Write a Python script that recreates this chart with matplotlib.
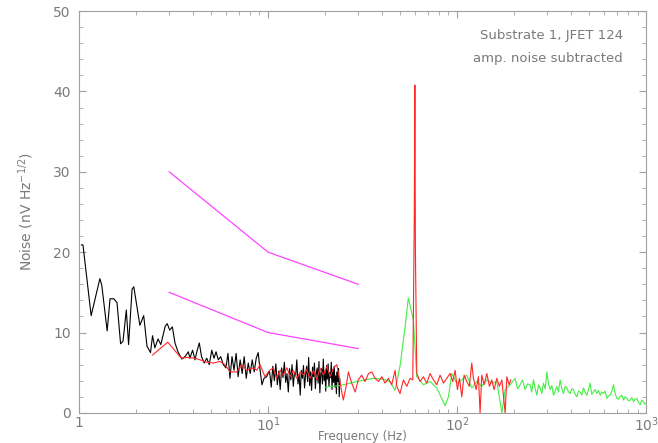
import numpy as np
import matplotlib.pyplot as plt

# Noise spectrum, substrate 1 / JFET 124

# black trace (low frequency run)
black_f = [1.03, 1.05, 1.16, 1.29, 1.32, 1.41, 1.46, 1.53, 1.59, 1.66, 1.71, 1.78,
           1.83, 1.91, 1.95, 2.10, 2.20, 2.29, 2.39, 2.45, 2.52, 2.62, 2.71, 2.86,
           2.93, 3.02, 3.12, 3.22, 3.34, 3.50, 3.64, 3.79, 3.86, 3.99, 4.11, 4.19,
           4.33, 4.45, 4.60, 4.74, 4.89, 5.04, 5.18, 5.31, 5.46, 5.62, 5.80, 5.99,
           6.14, 6.29, 6.45, 6.61, 6.78, 6.95, 7.12, 7.30, 7.48, 7.67, 7.86, 8.05,
           8.25, 8.45, 8.66, 8.87, 9.08, 9.29, 9.52, 9.83, 10.1]
black_v = [20.9, 20.9, 12.1, 16.7, 15.9, 10.2, 14.2, 14.2, 13.7, 8.6, 8.9, 12.8,
           8.5, 15.4, 15.7, 10.9, 12.1, 8.3, 7.5, 9.6, 8.1, 9.2, 8.5, 10.8,
           11.1, 10.3, 10.7, 8.7, 7.6, 6.7, 7.0, 7.6, 6.8, 7.8, 6.6, 7.5,
           8.7, 7.0, 6.2, 6.8, 6.0, 7.8, 6.8, 7.6, 6.6, 7.0, 6.0, 5.6,
           7.4, 4.3, 7.0, 5.3, 7.4, 4.5, 6.6, 4.9, 7.0, 4.3, 6.2, 4.9,
           6.6, 5.1, 6.8, 7.5, 5.3, 3.5, 4.3, 4.5, 5.1]
# dense part 10.2 - 24 Hz
black_hi = [5.1, 3.2, 5.8, 4.0, 6.1, 3.5, 5.2, 2.9, 5.6, 4.4, 6.3, 3.8, 4.9, 2.6,
            5.5, 4.1, 6.0, 3.3, 5.0, 4.6, 6.6, 3.6, 4.8, 2.2, 5.3, 4.3, 5.9, 3.1,
            4.7, 5.8, 3.9, 6.9, 3.4, 5.1, 2.8, 5.7, 4.5, 6.2, 3.0, 4.9, 5.6, 3.7,
            6.4, 2.5, 4.8, 5.5, 3.6, 6.7, 4.0, 5.2, 2.7, 5.9, 4.2, 6.1, 3.3, 5.0,
            4.4, 6.3, 2.9, 5.4, 3.8, 5.8, 3.2, 4.6, 2.4, 5.1, 3.9, 5.5, 2.0, 4.2]

# red trace (mid run, 60 Hz line)
red_f = [2.45, 2.95, 3.42, 3.50, 3.71, 4.11, 4.37, 4.74, 5.13, 5.57, 5.92, 6.29,
         6.83, 7.25, 7.71, 8.37, 8.72, 9.08, 9.63, 10.2, 10.67, 11.1, 11.6, 12.0,
         12.6, 13.1, 13.6, 14.2, 14.8, 15.4, 16.0, 16.7, 17.4, 18.1, 18.8, 19.6,
         20.5, 21.3, 22.2, 23.1, 24.0, 25.0, 25.9, 26.6, 27.7, 28.9, 30.0, 31.3,
         32.6, 34.0, 35.4, 36.8, 38.4, 40.0, 41.6, 43.3, 45.1, 47.0, 48.0, 49.9,
         52.0, 54.2, 56.4, 58.3, 59.4, 59.8, 60.2, 61.2, 63.7, 66.3, 69.1, 72.0,
         75.0, 78.1, 81.3, 84.7, 88.2, 91.8, 94.9, 97.6, 100.4, 102.9, 105.9, 108.9,
         112.5, 116.1, 119.6, 122.0, 126.1, 129.7, 132.3, 135.1, 139.0, 143.6, 148.3,
         152.6, 157.0, 162.2, 167.5, 172.5, 179.6, 183.3, 188.4, 192.3]
red_v = [7.2, 8.8, 7.0, 6.8, 6.9, 6.8, 6.6, 6.3, 6.2, 6.4, 6.0, 5.1,
         5.1, 6.0, 5.3, 5.6, 5.3, 6.0, 4.5, 5.3, 5.6, 4.3, 5.3, 4.7,
         5.6, 4.5, 5.3, 4.3, 5.1, 4.7, 5.4, 4.3, 5.3, 4.1, 5.6, 4.7,
         5.8, 4.5, 5.6, 6.0, 3.9, 1.6, 3.3, 5.1, 3.7, 2.6, 4.1, 4.7,
         3.9, 4.9, 5.1, 4.3, 3.9, 4.5, 3.7, 4.3, 3.5, 5.3, 3.3, 2.4,
         4.1, 3.3, 4.3, 4.1, 25.0, 40.8, 20.0, 4.9, 3.9, 4.5, 3.7, 4.9,
         4.1, 3.5, 4.7, 3.7, 4.3, 4.9, 3.9, 5.3, 2.9, 4.3, 2.0, 4.7,
         3.9, 3.3, 6.2, 4.3, 2.9, 4.5, 0.0, 4.7, 3.5, 4.9, 3.3,
         4.1, 2.9, 4.3, 3.3, 4.1, 0.0, 4.5, 3.5, 4.1]

# green trace (high frequency run)
green_f = [20.0, 24.0, 29.5, 36.1, 40.7, 44.2, 47.0, 49.9, 53.1, 55.2, 58.7, 61.2,
           66.4, 72.0, 78.1, 86.4, 90.0, 93.8, 99.6, 105.9, 112.5, 119.6, 127.1, 135.1,
           143.6, 152.6, 162.2, 172.5, 179.6, 190.7, 202.7, 215.4, 228.9, 243.3, 253.5,
           264.2, 274.9, 286.4, 298.5, 310.5, 323.6, 336.8, 350.8, 365.2, 380.6, 396.3,
           412.4, 429.8, 447.5, 465.9, 485.5, 505.4, 526.3, 548.4, 571.0, 594.5, 619.6,
           645.1, 671.6, 699.8, 728.6, 758.6, 790.6, 823.1, 857.0, 893.2, 929.9, 968.1,
           1000.0]
green_v = [3.2, 3.4, 3.9, 4.3, 4.2, 3.9, 2.8, 5.8, 10.7, 14.3, 11.6, 4.5,
           3.5, 3.9, 3.1, 0.9, 2.0, 4.9, 3.7, 4.1, 4.7, 3.1, 3.9, 3.3,
           4.1, 3.7, 3.9, 0.0, 2.9, 3.5, 4.3, 3.5, 2.9, 3.5, 4.1,
           2.2, 3.1, 3.7, 5.1, 2.9, 2.2, 3.3, 4.1, 2.4, 3.1, 2.4,
           2.9, 2.0, 2.6, 3.1, 2.2, 3.7, 2.6, 2.4, 2.2, 2.4, 1.8,
           2.2, 3.5, 1.8, 2.0, 1.6, 1.8, 1.6, 1.4, 1.8, 1.0, 1.4,
           1.2]
# extra green bins in between (200 Hz - 1 kHz)
green_f2 = [209, 222, 236, 248, 259, 269.5, 280.5, 292.4, 304.4, 317, 330, 343.7,
            358, 372.8, 388.4, 404.3, 421, 438.6, 456.6, 475.6, 495.4, 515.8, 537.3,
            559.7, 582.7, 607, 632.3, 658.3, 685.6, 714.1, 743.5, 774.5, 806.8, 840,
            875, 911.5, 949, 984]
green_v2 = [3.0, 4.1, 3.6, 2.6, 3.0, 3.5, 2.4, 3.0, 3.6, 3.4, 2.7, 2.6,
            3.0, 3.3, 2.6, 3.0, 2.3, 2.7, 2.2, 2.6, 2.9, 2.3, 2.9,
            2.8, 2.6, 2.7, 2.1, 2.7, 2.4, 1.7, 2.2, 2.0, 1.5, 1.9,
            1.7, 1.3, 1.6, 1.1]

# magenta reference lines
ref_f = [3, 10, 30]
ref_hi = [30, 20, 16]
ref_lo = [15, 10, 8]

grey = '#7a7a7a'
plt.rcParams['font.family'] = 'DejaVu Sans'

fig = plt.figure(figsize=(6.58, 4.43), dpi=100)
ax = fig.add_axes([0.120, 0.068, 0.862, 0.907])

black_f_all = black_f + list(np.linspace(10.2, 24.0, len(black_hi)))
black_v_all = black_v + black_hi

gf = np.array(green_f + green_f2)
gv = np.array(green_v + green_v2)
order = np.argsort(gf)

ax.plot(black_f_all, black_v_all, color='black', lw=0.8)
ax.plot(gf[order], gv[order], color='#44ee44', lw=0.8)
ax.plot(red_f, red_v, color='#ff2828', lw=0.8)
ax.plot(ref_f, ref_hi, color='#ff44ff', lw=0.9)
ax.plot(ref_f, ref_lo, color='#ff44ff', lw=0.9)

ax.set_xscale('log')
ax.set_xlim(1, 1000)
ax.set_ylim(0, 50)
ax.set_yticks(np.arange(0, 51, 10))
ax.set_yticks(np.arange(0, 51, 2), minor=True)
ax.set_xticks([1, 10, 100, 1000])
ax.set_xticklabels(['1', '$10^1$', '$10^2$', '$10^3$'])

for s in ax.spines.values():
    s.set_color('#a0a0a0')
    s.set_linewidth(0.8)
ax.tick_params(which='both', direction='in', top=True, right=True,
               color='#a0a0a0', labelcolor=grey, labelsize=10)
ax.tick_params(which='major', length=5)
ax.tick_params(axis='y', which='major', pad=6)
ax.tick_params(axis='x', which='major', pad=2)
ax.tick_params(which='minor', length=3)

# x label sits right at the bottom edge of the figure
fig.text(0.12 + 0.862 / 2, 0.0, 'Frequency (Hz)', ha='center', va='bottom',
         color=grey, fontsize=8.5)
ax.set_ylabel('Noise (nV Hz$^{-1/2}$)', color=grey, fontsize=10, labelpad=12)

ax.text(0.959, 0.94, 'Substrate 1, JFET 124', transform=ax.transAxes,
        ha='right', va='center', color=grey, fontsize=9.5)
ax.text(0.959, 0.883, 'amp. noise subtracted', transform=ax.transAxes,
        ha='right', va='center', color=grey, fontsize=9.5)

fig.savefig('out.png', dpi=100)
